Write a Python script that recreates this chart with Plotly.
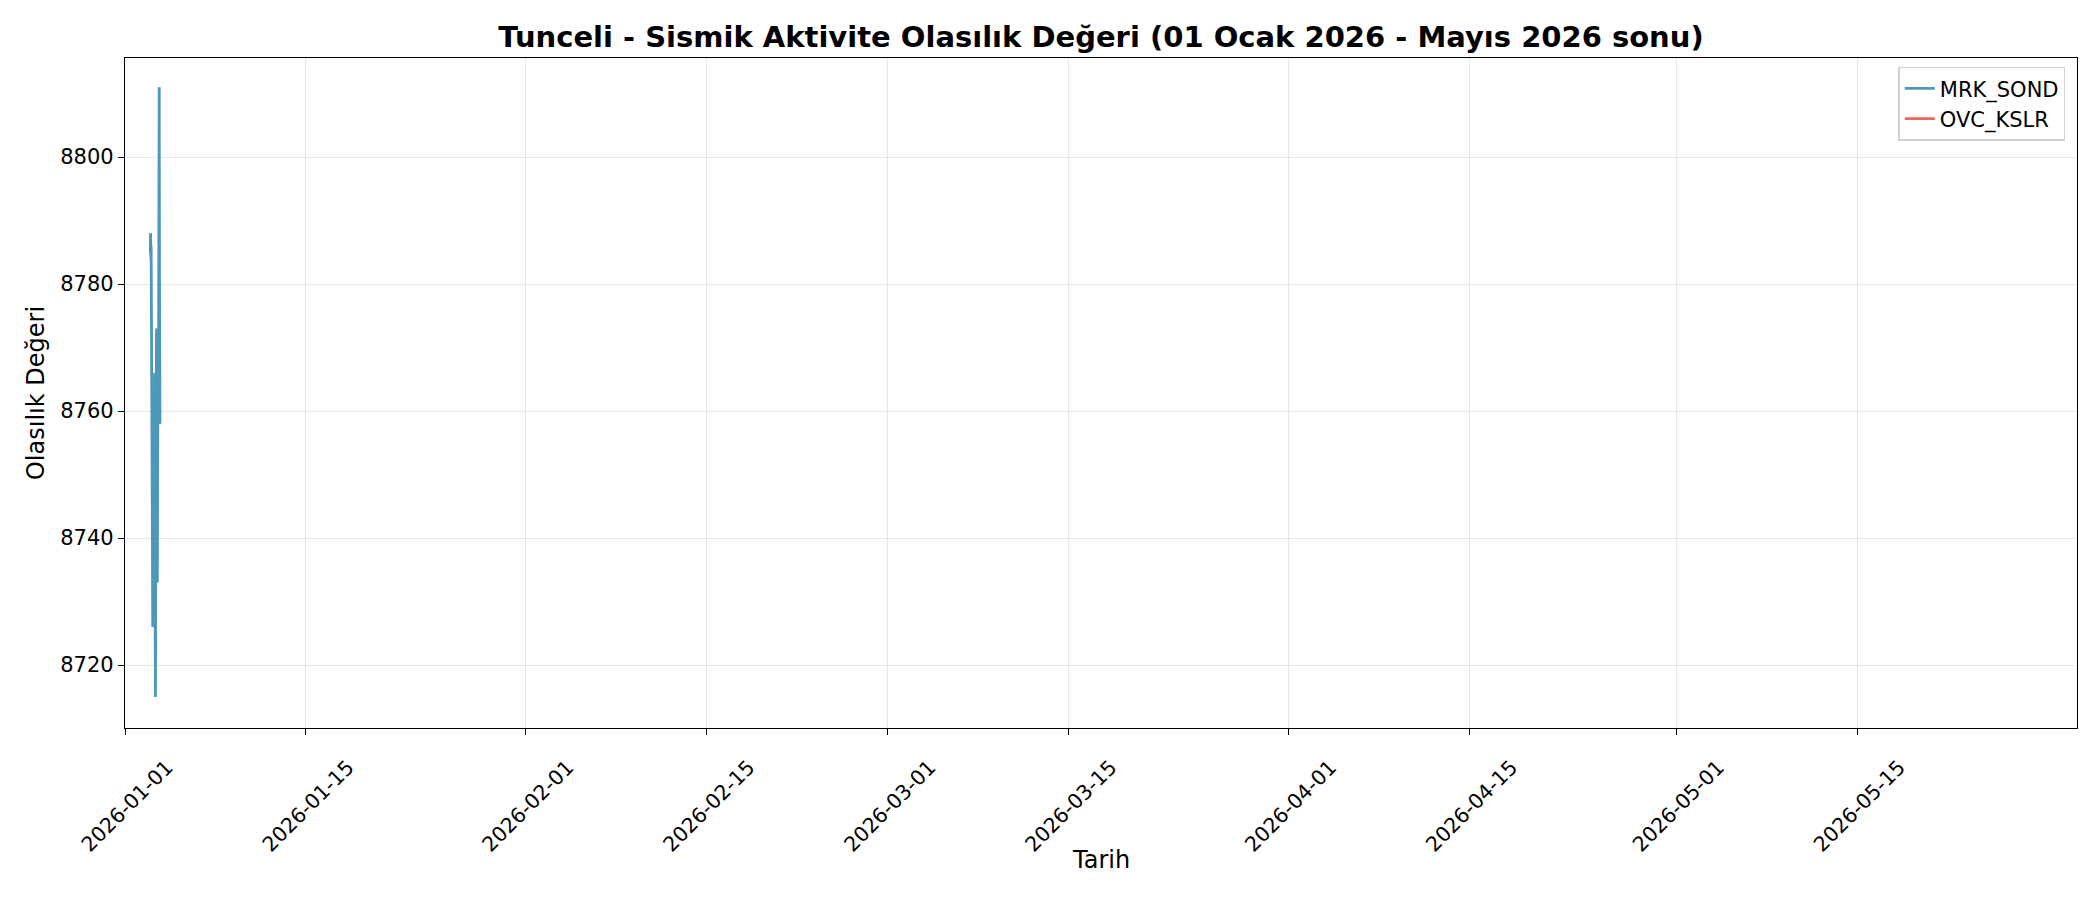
import pandas as pd
import plotly.graph_objects as go

# Tunceli - probability values, 30 min steps
times = pd.date_range("2026-01-02 23:00", "2026-01-03 17:00", freq="30min")
mrk_sond = [8785, 8788, 8784, 8786, 8777, 8762, 8753, 8768, 8741, 8726,
            8738, 8755, 8761, 8747, 8731, 8752, 8766, 8743, 8727, 8715,
            8734, 8750, 8763, 8773, 8757, 8744, 8733, 8748, 8760, 8771,
            8758, 8774, 8790, 8811, 8782, 8766, 8758]
ovc_kslr = [None] * len(mrk_sond)  # no values in this window

x_ticks = ["2026-01-01", "2026-01-15", "2026-02-01", "2026-02-15", "2026-03-01",
           "2026-03-15", "2026-04-01", "2026-04-15", "2026-05-01", "2026-05-15"]
y_ticks = [8720, 8740, 8760, 8780, 8800]

fig = go.Figure()
fig.add_trace(go.Scatter(x=list(times), y=mrk_sond, mode="lines", name="MRK_SOND",
                         line=dict(color="rgba(46,134,171,0.85)", width=2.8)))
fig.add_trace(go.Scatter(x=list(times), y=ovc_kslr, mode="lines", name="OVC_KSLR",
                         line=dict(color="rgba(231,76,60,0.85)", width=2.8)))

axis_common = dict(showline=True, mirror=True, linecolor="black", linewidth=1.3,
                   ticks="outside", ticklen=6, tickwidth=1.3, tickcolor="black",
                   showgrid=True, gridcolor="rgba(0,0,0,0.09)", gridwidth=1,
                   zeroline=False, tickfont=dict(size=21, color="black"))

fig.update_layout(
    width=2100, height=900,
    paper_bgcolor="white", plot_bgcolor="white",
    font=dict(family="DejaVu Sans", color="black"),
    title=dict(text="<b>Tunceli - Sismik Aktivite Olasılık Değeri (01 Ocak 2026 - Mayıs 2026 sonu)</b>",
               x=0.5, xref="paper", xanchor="center", y=0.968, yanchor="middle",
               font=dict(size=29)),
    margin=dict(l=117, r=31, t=50, b=180),
    xaxis=dict(axis_common, range=["2026-01-01", "2026-06-01"],
               tickvals=x_ticks, ticktext=x_ticks, tickangle=-45,
               tickfont=dict(size=20.5, color="black"),
               ticklabelshift=42, ticklabelstandoff=12),
    yaxis=dict(axis_common, range=[8710.1, 8815.6], tickvals=y_ticks,
               title=dict(text="Olasılık Değeri", font=dict(size=24), standoff=8)),
    legend=dict(x=0.994, y=0.987, xanchor="right", yanchor="top",
                bgcolor="white", bordercolor="rgba(0,0,0,0.18)", borderwidth=1.5,
                font=dict(size=21)),
    showlegend=True,
)

# x axis title placed by hand so it sits just under the rotated dates
fig.add_annotation(text="Tarih", xref="paper", yref="paper", x=0.5, y=-0.197,
                   xanchor="center", yanchor="middle", showarrow=False,
                   font=dict(size=24, color="black"))

fig.write_html("out.html")
